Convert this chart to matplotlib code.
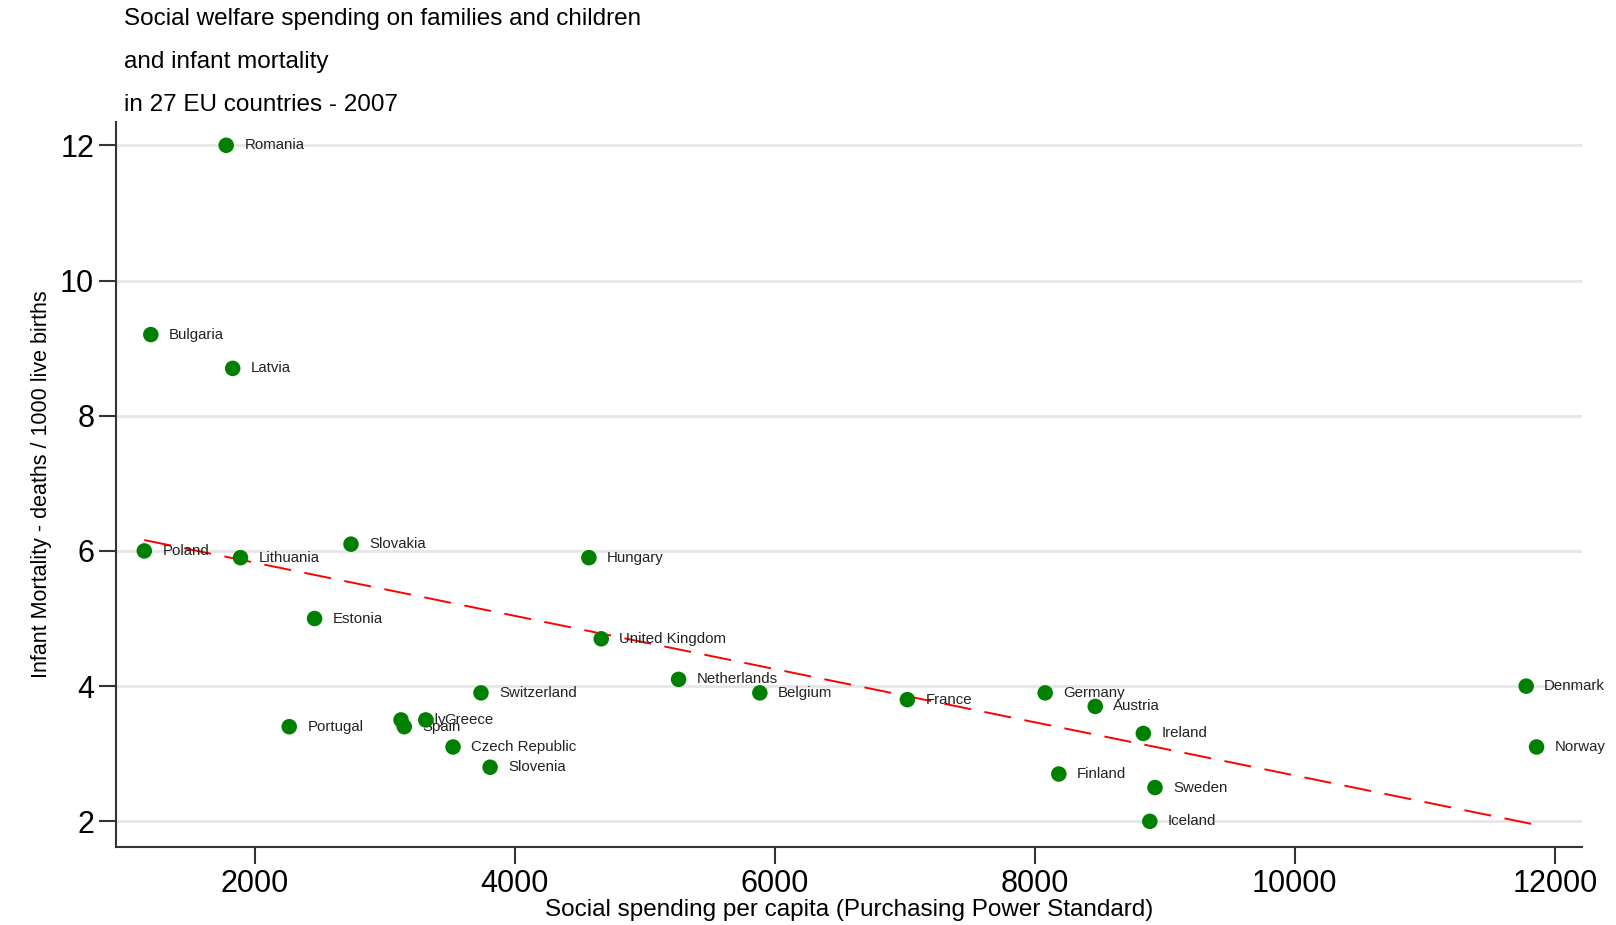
import numpy as np
import matplotlib.pyplot as plt

plt.rcParams['font.family'] = ['Liberation Sans', 'DejaVu Sans']

countries = ["Romania", "Bulgaria", "Latvia", "Poland", "Lithuania", "Slovakia",
             "Hungary", "Estonia", "United Kingdom", "Netherlands", "Switzerland",
             "Belgium", "France", "Germany", "Austria", "Denmark", "Norway",
             "Ireland", "Finland", "Sweden", "Iceland", "Portugal", "Italy",
             "Spain", "Greece", "Czech Republic", "Slovenia"]
spending = [1780, 1200, 1830, 1150, 1890, 2740,
            4570, 2460, 4665, 5260, 3740,
            5885, 7020, 8080, 8465, 11780, 11860,
            8835, 8185, 8925, 8885, 2265, 3125,
            3150, 3315, 3525, 3810]
mortality = [12.0, 9.2, 8.7, 6.0, 5.9, 6.1,
             5.9, 5.0, 4.7, 4.1, 3.9,
             3.9, 3.8, 3.9, 3.7, 4.0, 3.1,
             3.3, 2.7, 2.5, 2.0, 3.4, 3.5,
             3.4, 3.5, 3.1, 2.8]

x = np.array(spending)
y = np.array(mortality)
b, a = np.polyfit(x, y, 1)
xl = np.array([x.min(), x.max()])

fig = plt.figure(figsize=(16.16, 9.25), dpi=100)
ax = fig.add_axes([0.072, 0.0843, 0.907, 0.7842])

for yy in [2, 4, 6, 8, 10, 12]:
    ax.axhline(yy, color='#e6e6e6', lw=2, zorder=0)

# markers and labels drawn one country at a time, so later ones cover earlier labels
for i, (c, xi, yi) in enumerate(zip(countries, x, y)):
    ax.scatter([xi], [yi], s=125, color='#008000', edgecolor='none', zorder=2 + i * 0.01)
    ax.annotate(c, (xi, yi), xytext=(13, 0), textcoords='offset points',
                va='center', ha='left', fontsize=10.8, color='#222222',
                zorder=2.005 + i * 0.01)

ax.plot(xl, a + b * xl, color='red', lw=1.4, dashes=(14, 7), zorder=1.5)

ax.set_xlim(935, 12210)
ax.set_ylim(1.62, 12.35)
ax.set_xticks([2000, 4000, 6000, 8000, 10000, 12000])
ax.set_yticks([2, 4, 6, 8, 10, 12])
ax.tick_params(axis='both', labelsize=22, length=12, width=1.5, color='#333333', pad=4)

for s in ['top', 'right']:
    ax.spines[s].set_visible(False)
for s in ['left', 'bottom']:
    ax.spines[s].set_color('#333333')
    ax.spines[s].set_linewidth(1.5)

ax.set_xlabel("Social spending per capita (Purchasing Power Standard)", fontsize=17.5, labelpad=0)
ax.set_ylabel("Infant Mortality - deaths / 1000 live births", fontsize=15.5, labelpad=6)

fig.text(0.0767, 0.979, "Social welfare spending on families and children", fontsize=17.5, va='center')
fig.text(0.0767, 0.933, "and infant mortality", fontsize=17.5, va='center')
fig.text(0.0767, 0.887, "in 27 EU countries - 2007", fontsize=17.5, va='center')

fig.savefig("out.png", dpi=100)
